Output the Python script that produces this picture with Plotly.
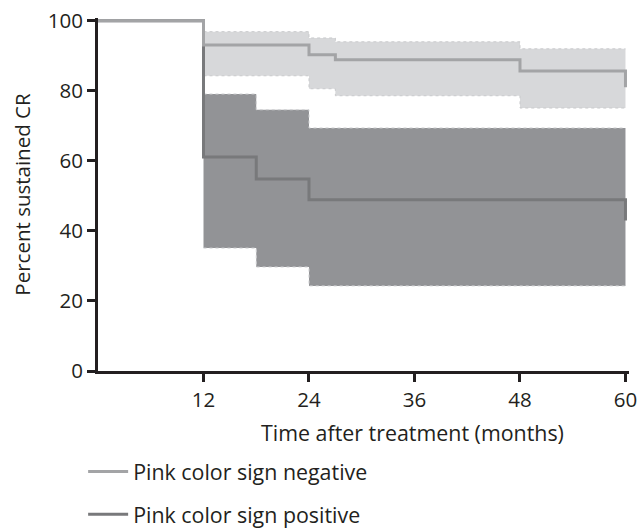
import plotly.graph_objects as go

# Kaplan-Meier style data (months, percent sustained CR)
neg_t = [0, 12, 24, 27, 48, 60, 60]
neg_v = [100, 93.1, 90.3, 88.9, 85.7, 85.7, 81.0]
neg_ci_t = [12, 24, 27, 48, 60]
neg_ci_hi = [96.9, 95.1, 94.0, 92.0, 92.0]
neg_ci_lo = [84.3, 80.6, 78.6, 75.1, 75.1]

pos_t = [0, 12, 18, 24, 60, 60]
pos_v = [100, 61.1, 54.8, 48.9, 48.9, 43.0]
pos_ci_t = [12, 18, 24, 60]
pos_ci_hi = [79.1, 74.6, 69.4, 69.4]
pos_ci_lo = [35.1, 29.7, 24.3, 24.3]

x_ticks = [12, 24, 36, 48, 60]
y_ticks = [0, 20, 40, 60, 80, 100]
names = ["Pink color sign negative", "Pink color sign positive"]

INK = "#231f20"
FONT = "Open Sans"
FS = 20.5
FS2 = 21.4

fig = go.Figure()

# Negative CI band
fig.add_trace(go.Scatter(x=neg_ci_t, y=neg_ci_lo, mode="lines", line=dict(shape="hv", color="#c9cacc", width=1, dash="dot"),
                         showlegend=False, hoverinfo="skip"))
fig.add_trace(go.Scatter(x=neg_ci_t, y=neg_ci_hi, mode="lines", line=dict(shape="hv", color="#c9cacc", width=1, dash="dot"),
                         fill="tonexty", fillcolor="#d7d8da", showlegend=False, hoverinfo="skip"))
# Positive CI band
fig.add_trace(go.Scatter(x=pos_ci_t, y=pos_ci_lo, mode="lines", line=dict(shape="hv", color="#cfd0d2", width=1, dash="dot"),
                         showlegend=False, hoverinfo="skip"))
fig.add_trace(go.Scatter(x=pos_ci_t, y=pos_ci_hi, mode="lines", line=dict(shape="hv", color="#cfd0d2", width=1, dash="dot"),
                         fill="tonexty", fillcolor="#929396", showlegend=False, hoverinfo="skip"))

# Curves
fig.add_trace(go.Scatter(x=pos_t, y=pos_v, mode="lines", name=names[1], legendgroup="b", legendrank=2,
                         line=dict(shape="hv", color="#78797b", width=3)))
fig.add_trace(go.Scatter(x=neg_t, y=neg_v, mode="lines", name=names[0], legendgroup="a", legendrank=1,
                         line=dict(shape="hv", color="#a3a4a6", width=3)))

fig.update_layout(
    width=637, height=529,
    margin=dict(l=98, r=7.5, t=18.2, b=158, autoexpand=False),
    paper_bgcolor="white", plot_bgcolor="white",
    font=dict(family=FONT, size=FS, color=INK),
    showlegend=True,
    legend=dict(x=-0.028, y=-0.227, xanchor="left", yanchor="top",
                traceorder="grouped", tracegroupgap=12, itemwidth=40,
                font=dict(family=FONT, size=FS2, color=INK),
                bgcolor="rgba(0,0,0,0)"),
    xaxis=dict(range=[0, 60.4], tickvals=x_ticks, ticktext=[str(v) for v in x_ticks],
               automargin=False, ticklabeloverflow="allow",
               showgrid=False, zeroline=False, showline=True, linewidth=3, linecolor=INK,
               ticks="outside", ticklen=8, tickwidth=3, tickcolor=INK),
    yaxis=dict(range=[0, 100.8], tickvals=y_ticks, ticktext=[str(v) for v in y_ticks],
               automargin=False, ticklabeloverflow="allow",
               showgrid=False, zeroline=False, showline=True, linewidth=3, linecolor=INK,
               ticks="outside", ticklen=8, tickwidth=3, tickcolor=INK,
               title=dict(text="Percent sustained CR", standoff=12,
                          font=dict(family=FONT, size=FS, color=INK))),
    annotations=[dict(text="Time after treatment (months)", xref="paper", yref="paper",
                      x=0.593, y=-0.174, xanchor="center", yanchor="middle", showarrow=False,
                      font=dict(family=FONT, size=FS2, color=INK))],
)

fig.write_html("out.html", config={"displayModeBar": False},
               post_script="document.body.style.margin='0';document.body.style.overflow='hidden';")
